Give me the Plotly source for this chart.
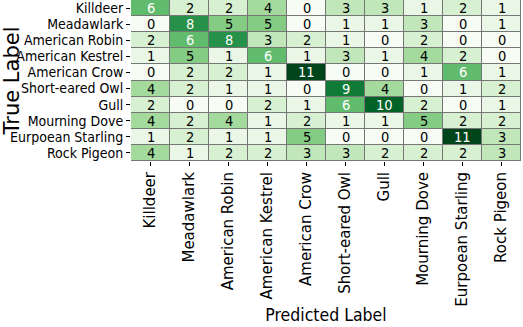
import plotly.graph_objects as go

labels = ['Killdeer', 'Meadawlark', 'American Robin', 'American Kestrel', 'American Crow',
          'Short-eared Owl', 'Gull', 'Mourning Dove', 'Eurpoean Starling', 'Rock Pigeon']

killdeer = [6, 2, 2, 4, 0, 3, 3, 1, 2, 1]
meadawlark = [0, 8, 5, 5, 0, 1, 1, 3, 0, 1]
american_robin = [2, 6, 8, 3, 2, 1, 0, 2, 0, 0]
american_kestrel = [1, 5, 1, 6, 1, 3, 1, 4, 2, 0]
american_crow = [0, 2, 2, 1, 11, 0, 0, 1, 6, 1]
short_eared_owl = [4, 2, 1, 1, 0, 9, 4, 0, 1, 2]
gull = [2, 0, 0, 2, 1, 6, 10, 2, 0, 1]
mourning_dove = [4, 2, 4, 1, 2, 1, 1, 5, 2, 2]
eurpoean_starling = [1, 2, 1, 1, 5, 0, 0, 0, 11, 3]
rock_pigeon = [4, 1, 2, 2, 3, 3, 2, 2, 2, 3]

matrix = [killdeer, meadawlark, american_robin, american_kestrel, american_crow,
          short_eared_owl, gull, mourning_dove, eurpoean_starling, rock_pigeon]

font_h = 'DejaVu Sans Condensed'
font_v = 'DejaVu Sans'

fig = go.Figure()
fig.add_trace(go.Heatmap(
    z=matrix, x=labels, y=labels,
    colorscale='Greens', zmin=0, zmax=11,
    showscale=False, xgap=1, ygap=1,
))

vmax = max(max(r) for r in matrix)
for i, row in enumerate(matrix):
    for j, v in enumerate(row):
        fig.add_annotation(
            x=labels[j], y=labels[i], text=str(v), showarrow=False,
            font=dict(family=font_h, size=14.5,
                      color='white' if v > vmax / 2 else 'black'),
        )

fig.update_layout(
    width=523, height=327,
    margin=dict(l=131, r=2, t=0, b=166),
    plot_bgcolor='#767676', paper_bgcolor='white',
    font=dict(family=font_h, color='black'),
)
fig.update_xaxes(
    range=[-0.5, len(labels) - 0.5],
    tickangle=-90, ticks='outside', ticklen=4, tickcolor='black',
    tickmode='array', tickvals=labels, ticktext=labels,
    tickfont=dict(family=font_v, size=15),
    title=dict(text='Predicted Label', font=dict(family=font_h, size=17.5), standoff=3),
    showgrid=False, zeroline=False, automargin=False,
)
fig.update_yaxes(
    range=[len(labels) - 0.5, -0.5], ticks='outside', ticklen=4, tickcolor='black',
    tickmode='array', tickvals=labels, ticktext=labels,
    tickfont=dict(family=font_h, size=14),
    title=dict(text='True Label', font=dict(family=font_v, size=21), standoff=2),
    showgrid=False, zeroline=False, automargin=False,
)

# page has a default body margin; drop it so the figure sits at the corner
fig.write_html('out.html', config={'displayModeBar': False},
               post_script="document.body.style.margin='0px';")
